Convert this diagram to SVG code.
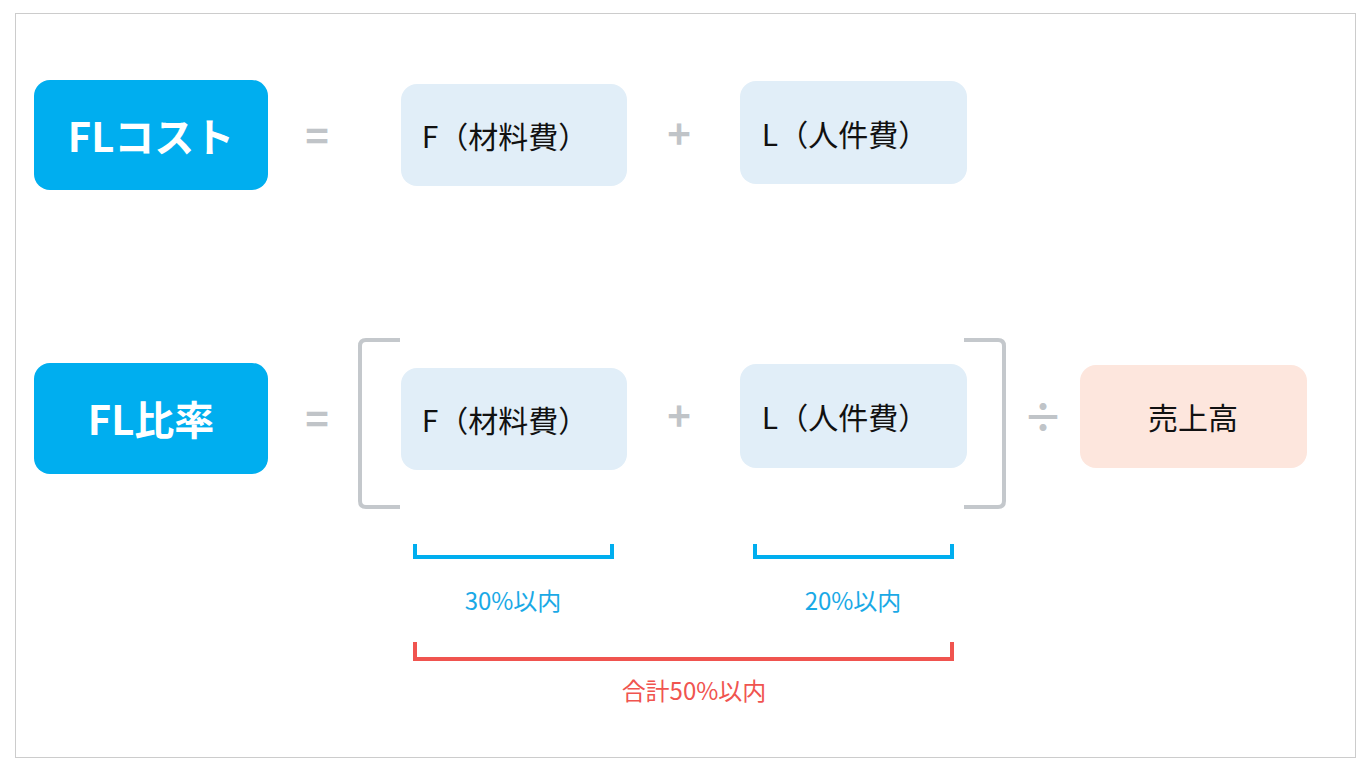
<svg xmlns="http://www.w3.org/2000/svg" width="1368" height="770" viewBox="0 0 1368 770">
<style>
text{font-family:"Noto Sans CJK JP","Noto Sans",sans-serif;text-anchor:middle;dominant-baseline:central}
.title{fill:#00aeef}.tt{fill:#fff;font-size:40px;font-weight:bold}
.term{fill:#e1eef8}.tx{fill:#111;font-size:30px}
.op{fill:#c0c4c8;font-size:40px;font-weight:bold}
.br{fill:none;stroke:#c4c8cc;stroke-width:4}
.bb{fill:none;stroke:#00aeef;stroke-width:4}
.rb{fill:none;stroke:#f0544f;stroke-width:4}
.lb{font-size:24px}
</style>
<rect x="15.500" y="13.500" width="1340" height="744" fill="#fff" stroke="#ccc"/>
<g id="fl-cost"><rect class="title" x="34" y="80" width="234" height="110" rx="16"/><text class="tt" x="151" y="135">FLコスト</text></g>
<g id="f1"><rect class="term" x="401" y="84" width="226" height="102" rx="16"/><text class="tx" x="505" y="135">F（材料費）</text></g>
<g id="l1"><rect class="term" x="740" y="81" width="227" height="103" rx="16"/><text class="tx" x="845" y="133">L（人件費）</text></g>
<g id="fl-ratio"><rect class="title" x="34" y="363" width="234" height="111" rx="16"/><text class="tt" x="151" y="418">FL比率</text></g>
<g id="f2"><rect class="term" x="401" y="368" width="226" height="102" rx="16"/><text class="tx" x="505" y="419">F（材料費）</text></g>
<g id="l2"><rect class="term" x="740" y="364" width="227" height="104" rx="16"/><text class="tx" x="845" y="416">L（人件費）</text></g>
<g id="sales"><rect x="1080" y="365" width="227" height="103" rx="16" fill="#fde6dd"/><text class="tx" x="1193" y="416">売上高</text></g>
<g id="connectors">
<text class="op" x="317" y="134">=</text><text class="op" x="679" y="132">+</text>
<text class="op" x="317" y="417">=</text><text class="op" x="679" y="414">+</text><text class="op" x="1043" y="415">÷</text>
<path class="br" d="M400 340H366Q360 340 360 346V501Q360 507 366 507H400"/>
<path class="br" d="M964 340H998Q1004 340 1004 346V501Q1004 507 998 507H964"/>
<path class="bb" d="M415 544V557H612V544"/>
<path class="bb" d="M755 544V557H952V544"/>
<path class="rb" d="M415 642V659H952V642"/>
<text class="lb" x="513" y="599" fill="#1aa9e6">30%以内</text>
<text class="lb" x="853" y="599" fill="#1aa9e6">20%以内</text>
<text class="lb" x="694" y="689" fill="#f0544f">合計50%以内</text>
</g>
</svg>
